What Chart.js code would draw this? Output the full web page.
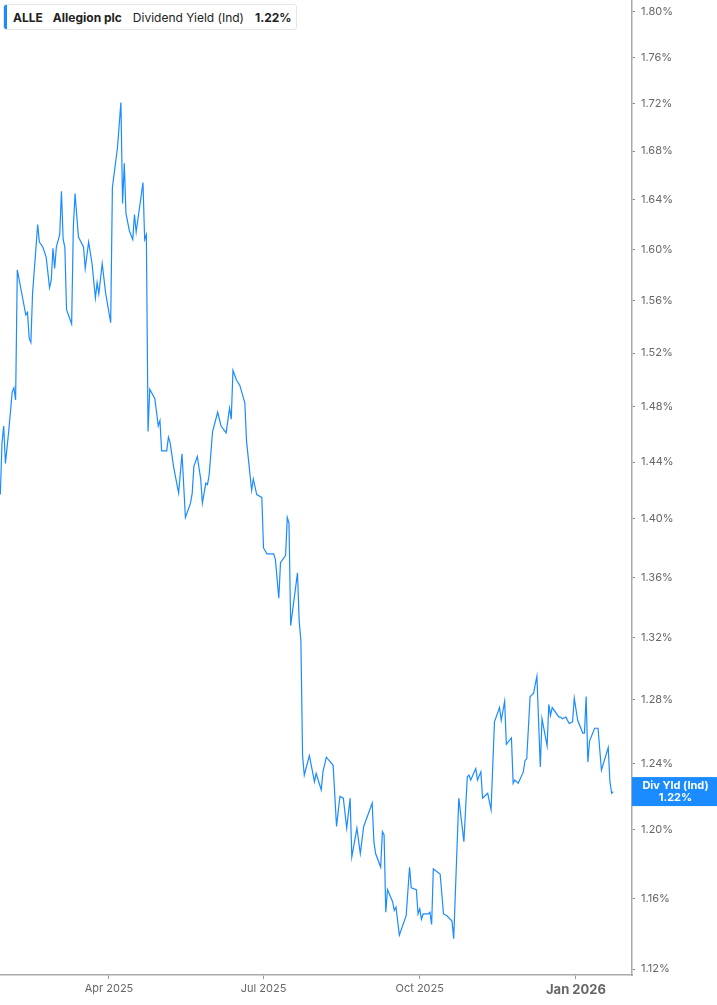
<!DOCTYPE html>
<html>
<head>
<meta charset="utf-8">
<script src="https://cdn.jsdelivr.net/npm/chart.js@4.4.0/dist/chart.umd.min.js"></script>
<style>
    html, body { margin: 0; padding: 0; background: #fff; }
    #wrap { position: relative; width: 717px; height: 1005px; }
    #header {
        position: absolute; left: 3px; top: 4px; width: 294px; height: 26px;
        border: 1px solid #e6e6e6; border-radius: 3px; background: #fff;
        font-family: Inter, "Noto Sans", sans-serif; font-size: 12px; color: #222;
        display: flex; align-items: center; box-sizing: border-box;
    }
    #header .bar { position: absolute; left: 0; top: 0; bottom: 0; width: 3px; background: #1a8cff; border-radius: 2px 0 0 2px; }
    #header span { white-space: nowrap; }
    #header b { font-weight: 700; }
</style>
</head>
<body>
<div id="wrap">
    <canvas id="yieldChart" width="717" height="1005"></canvas>
    <div id="header">
        <div class="bar"></div>
        <span style="margin-left:9px"><b>ALLE</b></span>
        <span style="margin-left:10px"><b>Allegion plc</b></span>
        <span style="margin-left:11px">Dividend Yield (Ind)</span>
        <span style="margin-left:11px"><b>1.22%</b></span>
    </div>
</div>
<script>
// days counted from 2025-01-01 (day 0)
const days = [
    26, 27, 28, 29, 31, 33, 34, 35, 36, 39, 41, 42, 43, 44, 45, 48, 49, 51, 53, 55,
    56, 57, 58, 59, 61, 62, 63, 64, 65, 68, 69, 70, 72, 75, 76, 78, 80, 82, 83, 84,
    86, 88, 91, 92, 95, 97, 98, 99, 100, 102, 104, 105, 106, 110, 111, 112, 113, 114, 117, 119,
    120, 121, 124, 125, 126, 128, 131, 133, 135, 138, 139, 140, 142, 144, 145, 147, 148, 149, 151, 154,
    156, 159, 161, 162, 163, 165, 167, 170, 171, 174, 175, 177, 180, 181, 183, 187, 188, 190, 191, 194,
    195, 196, 197, 201, 202, 203, 204, 205, 208, 211, 212, 215, 216, 218, 222, 224, 226, 228, 230, 232,
    233, 236, 238, 240, 245, 246, 247, 250, 251, 252, 253, 254, 257, 258, 259, 261, 265, 267, 268, 271,
    272, 273, 274, 275, 278, 279, 280, 281, 285, 287, 289, 292, 293, 296, 299, 301, 302, 303, 306, 307,
    309, 310, 313, 315, 317, 320, 321, 323, 324, 327, 328, 329, 331, 334, 335, 336, 338, 340, 342, 344,
    345, 348, 349, 350, 351, 355, 356, 357, 359, 361, 363, 364, 366, 369, 370, 371, 372, 373, 376, 378,
    380, 384, 385, 386, 387
];

// indicated dividend yield, %
const yields = [
    1.417, 1.454, 1.466, 1.439, 1.463, 1.491, 1.494, 1.485, 1.584, 1.563, 1.549, 1.551, 1.531, 1.528, 1.566, 1.620, 1.606, 1.602, 1.594, 1.570,
    1.576, 1.601, 1.585, 1.602, 1.612, 1.647, 1.608, 1.602, 1.553, 1.542, 1.618, 1.645, 1.610, 1.602, 1.585, 1.606, 1.589, 1.562, 1.574, 1.565,
    1.589, 1.566, 1.543, 1.650, 1.683, 1.721, 1.637, 1.670, 1.629, 1.615, 1.608, 1.628, 1.614, 1.654, 1.608, 1.612, 1.462, 1.493, 1.486, 1.466,
    1.470, 1.448, 1.448, 1.458, 1.454, 1.437, 1.418, 1.446, 1.401, 1.411, 1.418, 1.437, 1.444, 1.428, 1.411, 1.425, 1.424, 1.431, 1.462, 1.476,
    1.466, 1.461, 1.479, 1.471, 1.507, 1.500, 1.496, 1.483, 1.455, 1.420, 1.428, 1.417, 1.415, 1.380, 1.376, 1.376, 1.372, 1.346, 1.370, 1.375,
    1.401, 1.397, 1.328, 1.363, 1.331, 1.318, 1.245, 1.233, 1.245, 1.229, 1.234, 1.224, 1.235, 1.244, 1.239, 1.202, 1.220, 1.219, 1.201, 1.219,
    1.184, 1.201, 1.186, 1.202, 1.216, 1.193, 1.186, 1.178, 1.199, 1.197, 1.152, 1.165, 1.158, 1.153, 1.155, 1.139, 1.150, 1.178, 1.166, 1.165,
    1.151, 1.154, 1.148, 1.151, 1.151, 1.152, 1.145, 1.177, 1.174, 1.151, 1.150, 1.147, 1.137, 1.219, 1.193, 1.232, 1.233, 1.230, 1.237, 1.230,
    1.235, 1.219, 1.222, 1.212, 1.266, 1.275, 1.267, 1.279, 1.252, 1.256, 1.228, 1.230, 1.228, 1.235, 1.242, 1.243, 1.282, 1.284, 1.295, 1.238,
    1.268, 1.251, 1.277, 1.270, 1.275, 1.269, 1.269, 1.268, 1.269, 1.265, 1.266, 1.281, 1.267, 1.259, 1.259, 1.282, 1.241, 1.254, 1.262, 1.262,
    1.236, 1.250, 1.229, 1.222, 1.223
];

const xTickDays = [90, 181, 273, 365];
const xTickLabels = ['Apr 2025', 'Jul 2025', 'Oct 2025', 'Jan 2026'];
const yTicks = [1.12, 1.16, 1.20, 1.24, 1.28, 1.32, 1.36, 1.40, 1.44, 1.48, 1.52, 1.56, 1.60, 1.64, 1.68, 1.72, 1.76, 1.80];

const lastLabel = ['Div Yld (Ind)', '1.22%'];
const lineColor = '#1a8cff';
const fontFamily = 'Inter, "Noto Sans", sans-serif';

// blue value tag on the right axis
const lastValueTag = {
    id: 'lastValueTag',
    afterDraw(chart) {
        const ctx = chart.ctx;
        const y = chart.scales.y.getPixelForValue(yields[yields.length - 1]);
        const left = chart.chartArea.right;
        const w = chart.width - left;
        ctx.save();
        ctx.fillStyle = lineColor;
        ctx.fillRect(left, y - 14.5, w, 29);
        ctx.fillStyle = '#fff';
        ctx.font = '700 11px ' + fontFamily;
        ctx.textAlign = 'center';
        ctx.textBaseline = 'middle';
        ctx.fillText(lastLabel[0], left + w / 2 + 1, y - 6);
        ctx.fillText(lastLabel[1], left + w / 2 + 1, y + 6);
        ctx.restore();
    }
};

new Chart(document.getElementById('yieldChart'), {
    type: 'line',
    data: {
        datasets: [{
            data: days.map((d, i) => ({ x: d, y: yields[i] })),
            borderColor: lineColor,
            borderWidth: 1.2,
            pointRadius: 0,
            tension: 0,
            fill: false
        }]
    },
    options: {
        responsive: false,
        animation: false,
        layout: { padding: 0 },
        plugins: {
            legend: { display: false },
            tooltip: { enabled: false }
        },
        scales: {
            x: {
                type: 'linear',
                min: 25.81,
                max: 398.0,
                afterBuildTicks: (scale) => {
                    scale.ticks = xTickDays.map(v => ({ value: v }));
                },
                afterFit: (scale) => {
                    scale.height = 30;
                    scale.paddingLeft = 0;
                    scale.paddingRight = 0;
                },
                grid: {
                    drawOnChartArea: false,
                    drawTicks: true,
                    tickLength: 4,
                    tickColor: '#999'
                },
                border: { display: true, color: '#aaa', width: 1.5 },
                ticks: {
                    autoSkip: false,
                    maxRotation: 0,
                    padding: 3,
                    color: '#666',
                    font: (c) => c.tick && c.tick.value === 365
                        ? { family: fontFamily, size: 13, weight: '700' }
                        : { family: fontFamily, size: 11 },
                    callback: (v) => {
                        const i = xTickDays.indexOf(v);
                        return i >= 0 ? xTickLabels[i] : '';
                    }
                }
            },
            y: {
                type: 'logarithmic',
                position: 'right',
                min: 1.1167,
                max: 1.8107,
                afterBuildTicks: (scale) => {
                    scale.ticks = yTicks.map(v => ({ value: v }));
                },
                afterFit: (scale) => {
                    scale.width = 85;
                    scale.paddingTop = 0;
                    scale.paddingBottom = 0;
                },
                grid: {
                    drawOnChartArea: false,
                    drawTicks: true,
                    tickLength: 3,
                    tickColor: '#888'
                },
                border: { display: true, color: '#aaa', width: 1.5 },
                ticks: {
                    padding: 6,
                    color: '#666',
                    font: { family: fontFamily, size: 11 },
                    callback: (v) => Number(v).toFixed(2) + '%'
                }
            }
        }
    },
    plugins: [lastValueTag]
});
</script>
</body>
</html>
